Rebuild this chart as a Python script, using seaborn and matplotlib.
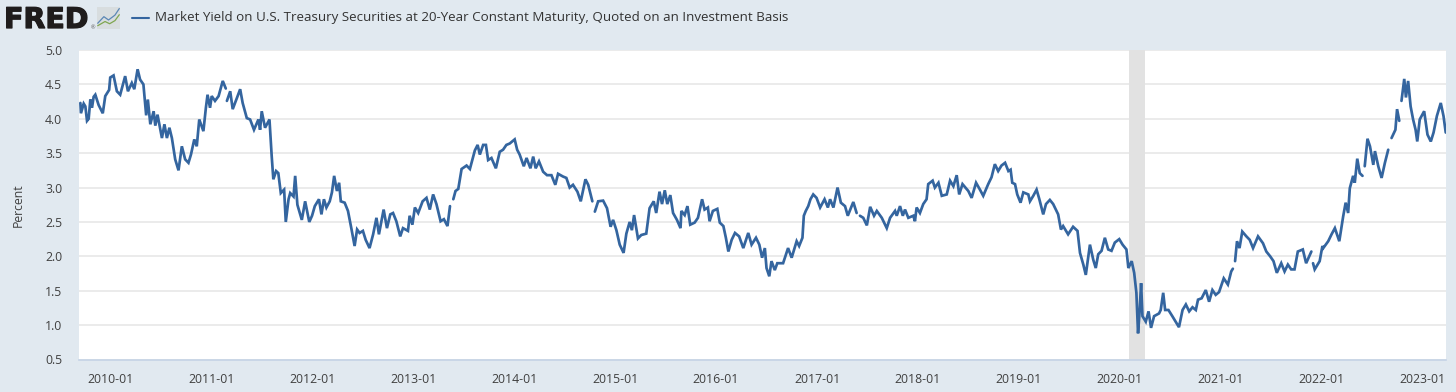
import numpy as np
import pandas as pd
import matplotlib.pyplot as plt
import matplotlib.dates as mdates
import matplotlib.patheffects as pe
from matplotlib.lines import Line2D
import seaborn as sns

nan = float("nan")

# Days since Jan 1 of each year, and yield in percent
days_2009 = [257, 259, 269, 275, 281, 287, 293, 299, 305, 311, 323, 338, 347, 361]
yield_2009 = [4.23, 4.08, 4.22, 4.18, 3.97, 4.0, 4.28, 4.16, 4.32, 4.35, 4.2, 4.08, 4.33, 4.42]
days_2010 = [0, 12, 24, 36, 54, 64, 78, 87, 99, 108, 120, 130, 136, 145, 157, 163, 171, 187, 196, 205, 214, 223, 235, 247, 259, 271, 283, 292, 304, 313, 322, 337, 346, 352, 361]
yield_2010 = [4.6, 4.63, 4.4, 4.35, 4.62, 4.4, 4.52, 4.43, 4.72, 4.57, 4.5, 4.05, 4.28, 3.92, 4.11, 3.9, 4.06, 3.72, 3.92, 3.72, 3.87, 3.72, 3.41, 3.25, 3.6, 3.41, 3.36, 3.48, 3.7, 3.6, 3.99, 3.82, 4.16, 4.35, 4.16]
days_2011 = [2, 14, 27, 42, 53, 55, 57, 69, 78, 93, 105, 114, 129, 141, 155, 171, 177, 183, 195, 211, 219, 225, 235, 243, 252, 264, 270, 280, 286, 298, 304, 312, 328, 340, 355]
yield_2011 = [4.33, 4.26, 4.33, 4.55, 4.44, nan, 4.26, 4.4, 4.14, 4.3, 4.43, 4.23, 4.01, 3.99, 3.84, 3.99, 3.84, 4.11, 3.87, 3.99, 3.46, 3.12, 3.24, 3.21, 2.92, 2.97, 2.5, 2.83, 2.92, 2.87, 3.17, 2.75, 2.53, 2.8, 2.5]
days_2012 = [0, 10, 25, 34, 43, 52, 64, 72, 80, 90, 98, 104, 118, 130, 142, 154, 163, 172, 184, 194, 208, 221, 233, 242, 259, 271, 283, 293, 305, 319, 329, 347, 353, 363]
yield_2012 = [2.59, 2.73, 2.83, 2.61, 2.83, 2.71, 2.8, 2.93, 3.17, 2.95, 3.07, 2.8, 2.78, 2.66, 2.41, 2.15, 2.39, 2.34, 2.37, 2.24, 2.12, 2.32, 2.56, 2.32, 2.68, 2.41, 2.61, 2.63, 2.51, 2.29, 2.41, 2.37, 2.59, 2.46]
days_2013 = [6, 18, 34, 48, 60, 72, 84, 99, 111, 124, 133, 140, 145, 153, 163, 175, 193, 205, 223, 233, 241, 253, 263, 271, 283, 299, 313, 325, 337, 349]
yield_2013 = [2.71, 2.63, 2.8, 2.85, 2.68, 2.9, 2.76, 2.51, 2.54, 2.44, 2.73, nan, 2.83, 2.95, 2.98, 3.27, 3.32, 3.27, 3.54, 3.62, 3.48, 3.62, 3.62, 3.4, 3.43, 3.28, 3.52, 3.55, 3.62, 3.64]
days_2014 = [2, 11, 20, 35, 45, 59, 69, 78, 90, 105, 119, 135, 149, 159, 177, 189, 201, 213, 229, 241, 258, 268, 283, 288, 292, 304, 322, 336, 349, 358]
yield_2014 = [3.7, 3.55, 3.48, 3.31, 3.43, 3.28, 3.45, 3.28, 3.38, 3.23, 3.18, 3.18, 3.04, 3.2, 3.16, 3.14, 3.0, 3.04, 2.94, 2.8, 3.12, 3.04, 2.8, nan, 2.65, 2.8, 2.81, 2.7, 2.43, 2.53]
days_2015 = [5, 17, 31, 41, 53, 61, 69, 83, 95, 113, 125, 140, 149, 161, 170, 180, 189, 200, 210, 224, 237, 240, 252, 262, 272, 288, 300, 315, 324, 336, 342, 354]
yield_2015 = [2.38, 2.17, 2.05, 2.33, 2.5, 2.38, 2.6, 2.26, 2.31, 2.33, 2.7, 2.8, 2.63, 2.94, 2.76, 2.96, 2.76, 2.89, 2.63, 2.53, 2.41, 2.66, 2.6, 2.73, 2.46, 2.49, 2.56, 2.83, 2.68, 2.71, 2.51, 2.66]
days_2016 = [5, 14, 27, 36, 45, 57, 69, 84, 99, 117, 129, 145, 157, 167, 177, 183, 193, 201, 213, 222, 243, 261, 274, 292, 301, 313, 318, 325, 334, 342, 352, 364]
yield_2016 = [2.69, 2.49, 2.44, 2.27, 2.07, 2.24, 2.34, 2.29, 2.12, 2.34, 2.17, 2.27, 2.17, 1.98, 2.12, 1.83, 1.71, 1.93, 1.8, 1.9, 1.9, 2.12, 1.98, 2.22, 2.15, 2.27, 2.59, 2.66, 2.73, 2.83, 2.9, 2.85]
days_2017 = [11, 27, 39, 47, 59, 74, 86, 101, 111, 131, 143, 149, 155, 167, 180, 192, 206, 216, 234, 252, 264, 282, 288, 300, 310, 318, 330, 348, 354, 360]
yield_2017 = [2.71, 2.83, 2.71, 2.83, 2.71, 3.0, 2.78, 2.73, 2.59, 2.79, 2.63, nan, 2.59, 2.56, 2.45, 2.72, 2.59, 2.66, 2.56, 2.41, 2.56, 2.66, 2.59, 2.73, 2.59, 2.68, 2.56, 2.59, 2.51, 2.71]
days_2018 = [7, 19, 31, 37, 53, 61, 74, 86, 104, 116, 128, 140, 149, 161, 182, 194, 210, 224, 236, 254, 266, 278, 290, 302, 315, 327, 335, 341, 351, 359]
yield_2018 = [2.63, 2.76, 2.83, 3.05, 3.1, 3.0, 3.07, 2.88, 2.9, 3.1, 3.02, 3.18, 2.9, 3.05, 2.95, 2.85, 3.07, 2.97, 2.88, 3.05, 3.15, 3.34, 3.24, 3.32, 3.36, 3.24, 3.26, 3.07, 3.05, 2.9]
days_2019 = [6, 16, 34, 40, 52, 64, 74, 88, 98, 112, 124, 142, 152, 160, 178, 196, 212, 221, 233, 242, 257, 269, 278, 287, 299, 311, 323, 335, 347, 363]
yield_2019 = [2.78, 2.93, 2.9, 2.8, 2.88, 2.97, 2.83, 2.61, 2.76, 2.82, 2.76, 2.61, 2.39, 2.44, 2.32, 2.43, 2.37, 2.05, 1.88, 1.73, 2.17, 1.95, 1.83, 2.03, 2.08, 2.27, 2.1, 2.08, 2.2, 2.25]
days_2020 = [10, 24, 31, 43, 52, 60, 66, 72, 77, 82, 94, 104, 113, 124, 142, 148, 157, 164, 176, 190, 202, 214, 227, 239, 251, 263, 275, 283, 296, 311, 323, 335, 347, 359]
yield_2020 = [2.17, 2.1, 1.83, 1.93, 1.76, 1.47, 0.88, 1.22, 1.61, 1.13, 1.05, 1.2, 0.96, 1.13, 1.17, 1.22, 1.47, 1.22, 1.22, 1.13, 1.05, 0.97, 1.22, 1.3, 1.2, 1.26, 1.22, 1.37, 1.39, 1.51, 1.34, 1.51, 1.44, 1.48]
days_2021 = [10, 25, 37, 43, 47, 51, 58, 67, 77, 92, 104, 116, 134, 152, 164, 178, 190, 202, 218, 230, 242, 254, 266, 278, 296, 308, 327, 330, 333, 339, 357]
yield_2021 = [1.68, 1.59, 1.78, 1.82, nan, 1.93, 2.22, 2.12, 2.36, 2.29, 2.24, 2.12, 2.29, 2.19, 2.07, 2.0, 1.93, 1.76, 1.9, 1.78, 1.88, 1.81, 1.81, 2.07, 2.1, 1.9, 2.07, nan, 1.9, 1.81, 1.93]
days_2022 = [2, 5, 23, 35, 47, 63, 77, 86, 95, 101, 113, 119, 128, 137, 147, 151, 155, 165, 174, 186, 192, 204, 216, 228, 240, 246, 252, 266, 272, 280, 284, 288, 298, 304, 312, 321, 330, 339, 345, 354]
yield_2022 = [2.15, 2.12, 2.22, 2.32, 2.41, 2.22, 2.58, 2.78, 2.63, 2.99, 3.17, 3.07, 3.42, 3.21, 3.17, nan, 3.31, 3.71, 3.6, 3.33, 3.53, 3.31, 3.14, 3.36, 3.55, nan, 3.72, 3.84, 4.14, 3.97, nan, 4.26, 4.58, 4.31, 4.55, 4.18, 3.99, 3.84, 3.67, 3.99]
days_2023 = [5, 17, 29, 39, 51, 65, 75, 83]
yield_2023 = [4.11, 3.77, 3.67, 3.8, 4.04, 4.23, 4.04, 3.8]

years = list(range(2009, 2024))
days_by_year = [days_2009, days_2010, days_2011, days_2012, days_2013, days_2014, days_2015, days_2016,
                days_2017, days_2018, days_2019, days_2020, days_2021, days_2022, days_2023]
yield_by_year = [yield_2009, yield_2010, yield_2011, yield_2012, yield_2013, yield_2014, yield_2015, yield_2016,
                 yield_2017, yield_2018, yield_2019, yield_2020, yield_2021, yield_2022, yield_2023]

y_ticks = [0.5, 1.0, 1.5, 2.0, 2.5, 3.0, 3.5, 4.0, 4.5, 5.0]
tick_years = list(range(2010, 2024))
recession = ("2020-02-03", "2020-04-01")
legend_text = "Market Yield on U.S. Treasury Securities at 20-Year Constant Maturity, Quoted on an Investment Basis"

# Logo icon squiggles
icon_x_blue = [0.3, 3, 5, 7.8, 9.7]
icon_y_blue = [2.6, 5.6, 4.1, 6.3, 9.3]
icon_x_green = [0.3, 3.5, 5.5, 7.8, 9.7]
icon_y_green = [1.5, 3.4, 2.4, 3.8, 6.5]

# Colours
page_bg = "#e1e9f0"
grid_col = "#e6e6e6"
line_col = "#34659f"
axis_col = "#c5d3e6"
text_col = "#404040"

frames = []
for yr, d, v in zip(years, days_by_year, yield_by_year):
    frames.append(pd.DataFrame({
        "date": pd.Timestamp(f"{yr}-01-01") + pd.to_timedelta(d, unit="D"),
        "value": v,
    }))
df = pd.concat(frames, ignore_index=True)
# FRED leaves holes on missing days, so split the line there
df["segment"] = df["value"].isna().cumsum()
df = df.dropna()

sns.set_theme(style="white")
plt.rcParams["font.family"] = ["Open Sans", "DejaVu Sans"]

fig = plt.figure(figsize=(14.56, 3.92), dpi=100, facecolor=page_bg)
W, H = 1456.0, 392.0
ax = fig.add_axes([79 / W, 1 - 359.5 / H, (1446 - 79) / W, (359.5 - 50) / H], facecolor="white")

ax.axvspan(pd.Timestamp(recession[0]), pd.Timestamp(recession[1]), color="#e2e2e2", lw=0, zorder=1)
sns.lineplot(data=df, x="date", y="value", units="segment", estimator=None,
             color=line_col, linewidth=1.95, ax=ax, zorder=3, solid_joinstyle="miter")

ax.set_xlim(pd.Timestamp("2009-09-10"), pd.Timestamp("2023-03-26"))
ax.set_ylim(0.5, 5.0)
ax.set_yticks(y_ticks)
ax.set_yticklabels([f"{t:.1f}" for t in y_ticks])
ax.set_xticks([pd.Timestamp(f"{y}-01-01") for y in tick_years])
ax.xaxis.set_major_formatter(mdates.DateFormatter("%Y-%m"))
ax.grid(axis="y", color=grid_col, linewidth=1.1, zorder=0)
ax.set_axisbelow(True)

for s in ["top", "right", "left"]:
    ax.spines[s].set_visible(False)
ax.spines["bottom"].set_color(axis_col)
ax.spines["bottom"].set_linewidth(1.2)
ax.tick_params(axis="x", length=7.5, width=0.8, color=axis_col, labelcolor=text_col, labelsize=8.8, pad=2.5)
ax.tick_params(axis="y", length=0, labelcolor=text_col, labelsize=8.8, pad=12)
ax.set_xlabel("")
ax.set_ylabel("")
fig.text(18 / W, 1 - 205 / H, "Percent", rotation=90, ha="center", va="center", fontsize=8.8, color=text_col)

# Header: logo text, small icon, legend key and label
logo = fig.text(4 / W, 1 - 28 / H, "FRED", fontsize=20.5, fontweight="bold", color="#1f1c1c",
                family=["DejaVu Sans"], ha="left", va="baseline")
logo.set_path_effects([pe.withStroke(linewidth=0.9, foreground="#1f1c1c")])
fig.text(91 / W, 1 - 29 / H, "®", fontsize=4, color="#555555", ha="left", va="baseline")

icon = fig.add_axes([97 / W, 1 - 29 / H, 23 / W, 22 / H], facecolor="#d8dddf")
icon.plot(icon_x_blue, icon_y_blue, color="#5b87b5", lw=0.9)
icon.plot(icon_x_green, icon_y_green, color="#7fa650", lw=0.9)
icon.set_xlim(0, 10)
icon.set_ylim(0, 10)
icon.set_xticks([])
icon.set_yticks([])
for s in icon.spines.values():
    s.set_visible(False)

fig.add_artist(Line2D([132 / W, 149 / W], [1 - 18 / H, 1 - 18 / H], color=line_col, lw=1.5))
fig.text(155 / W, 1 - 18 / H, legend_text, fontsize=9.6, color="#333333", ha="left", va="center")

fig.savefig("out.png", dpi=100, facecolor=page_bg)
plt.close(fig)
